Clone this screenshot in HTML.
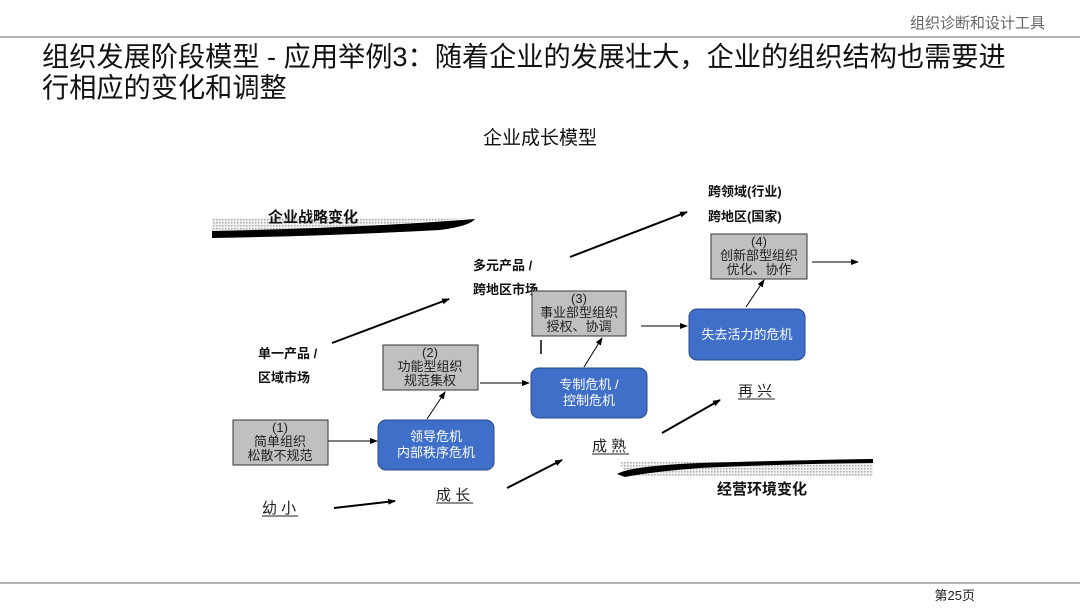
<!DOCTYPE html>
<html><head><meta charset="utf-8"><style>
body{margin:0;background:#fff;}
svg text{font-family:"Liberation Sans","Noto Sans CJK SC",sans-serif;}
</style></head><body>
<svg width="1080" height="608" viewBox="0 0 1080 608" xmlns="http://www.w3.org/2000/svg">
<defs>
<pattern id="dots" width="3" height="3" patternUnits="userSpaceOnUse"><rect width="3" height="3" fill="#f2f2f2"/><rect width="1.5" height="1.5" fill="#aaa"/></pattern>
<marker id="ah" markerWidth="8" markerHeight="8" refX="7" refY="4" orient="auto" markerUnits="userSpaceOnUse"><path d="M0,1 L8,4 L0,7 Z" fill="#000"/></marker>
</defs>
<text x="1045" y="28" font-size="15" fill="#666" text-anchor="end">组织诊断和设计工具</text>
<line x1="0" y1="37" x2="1080" y2="37" stroke="#666" stroke-width="1"/>
<text x="42" y="66" font-size="27.2" fill="#111">组织发展阶段模型 - 应用举例3：随着企业的发展壮大，企业的组织结构也需要进</text>
<text x="42" y="97" font-size="27.2" fill="#111">行相应的变化和调整</text>
<text x="540" y="144" font-size="19" fill="#111" text-anchor="middle">企业成长模型</text>

<path d="M212,218 L475,218 Q350,228 212,232 Z" fill="url(#dots)"/>
<path d="M212,231 Q360,228 475,219 Q470,226 440,230 Q330,236 212,238 Z" fill="#000"/>
<text x="268" y="222" font-size="15" font-weight="bold" fill="#111">企业战略变化</text>

<path d="M620,462 L873,462 L873,476 L625,476 Z" fill="url(#dots)"/>
<path d="M617,474 Q630,466 700,463 Q800,460 873,459 L873,463 Q780,464 700,468 Q650,472 625,477 Z" fill="#000"/>
<text x="717" y="494" font-size="15" font-weight="bold" fill="#111">经营环境变化</text>

<g font-size="13" font-weight="bold" fill="#111">
<text x="258" y="358">单一产品 /</text><text x="258" y="382">区域市场</text>
<text x="473" y="270">多元产品 /</text><text x="473" y="294">跨地区市场</text>
<text x="708" y="196">跨领域(行业)</text><text x="708" y="221">跨地区(国家)</text>
</g>

<g stroke="#000" stroke-width="2" marker-end="url(#ah)">
<line x1="332" y1="343" x2="449" y2="299"/>
<line x1="570" y1="257" x2="687" y2="212"/>
<line x1="334" y1="508" x2="395" y2="501"/>
<line x1="507" y1="488" x2="562" y2="460"/>
<line x1="662" y1="433" x2="720" y2="400"/>
</g>
<g stroke="#000" stroke-width="1" marker-end="url(#ah)">
<line x1="328" y1="441" x2="377" y2="441"/>
<line x1="427" y1="419" x2="445" y2="392"/>
<line x1="480" y1="383" x2="529" y2="383"/>
<line x1="584" y1="367" x2="602" y2="338"/>
<line x1="641" y1="326" x2="687" y2="326"/>
<line x1="746" y1="307" x2="764" y2="280"/>
<line x1="812" y1="262" x2="858" y2="262"/>
</g>
<line x1="541" y1="340" x2="541" y2="354" stroke="#000" stroke-width="1.5"/>

<g fill="#c0c0c0" stroke="#333" stroke-width="1">
<rect x="233" y="420" width="95" height="45"/>
<rect x="383" y="345" width="95" height="45"/>
<rect x="532" y="291" width="94" height="45"/>
<rect x="711" y="234" width="96" height="45"/>
</g>
<g fill="#3f6fc8" stroke="#2a4a8a" stroke-width="1">
<rect x="378" y="420" width="116" height="50" rx="8"/>
<rect x="531" y="368" width="116" height="50" rx="8"/>
<rect x="689" y="309" width="116" height="51" rx="8"/>
</g>
<g font-size="13" fill="#222" text-anchor="middle">
<text x="280" y="432">(1)</text><text x="280" y="446">简单组织</text><text x="280" y="460">松散不规范</text>
<text x="430" y="357">(2)</text><text x="430" y="371">功能型组织</text><text x="430" y="385">规范集权</text>
<text x="579" y="303">(3)</text><text x="579" y="317">事业部型组织</text><text x="579" y="331">授权、协调</text>
<text x="759" y="246">(4)</text><text x="759" y="260">创新部型组织</text><text x="759" y="274">优化、协作</text>
</g>
<g font-size="13" fill="#fff" text-anchor="middle">
<text x="436" y="441">领导危机</text><text x="436" y="457">内部秩序危机</text>
<text x="589" y="389">专制危机 /</text><text x="589" y="405">控制危机</text>
<text x="747" y="339">失去活力的危机</text>
</g>
<g font-size="15" fill="#222">
<text x="262" y="513">幼 小</text>
<text x="436" y="500">成 长</text>
<text x="592" y="451">成 熟</text>
<text x="738" y="396">再 兴</text>
</g>
<g stroke="#222" stroke-width="1">
<line x1="262" y1="516" x2="298" y2="516"/>
<line x1="436" y1="503" x2="473" y2="503"/>
<line x1="592" y1="454" x2="629" y2="454"/>
<line x1="738" y1="399" x2="775" y2="399"/>
</g>

<line x1="0" y1="583" x2="1080" y2="583" stroke="#666" stroke-width="1"/>
<text x="975" y="600" font-size="13" fill="#222" text-anchor="end">第25页</text>
</svg>
</body></html>
